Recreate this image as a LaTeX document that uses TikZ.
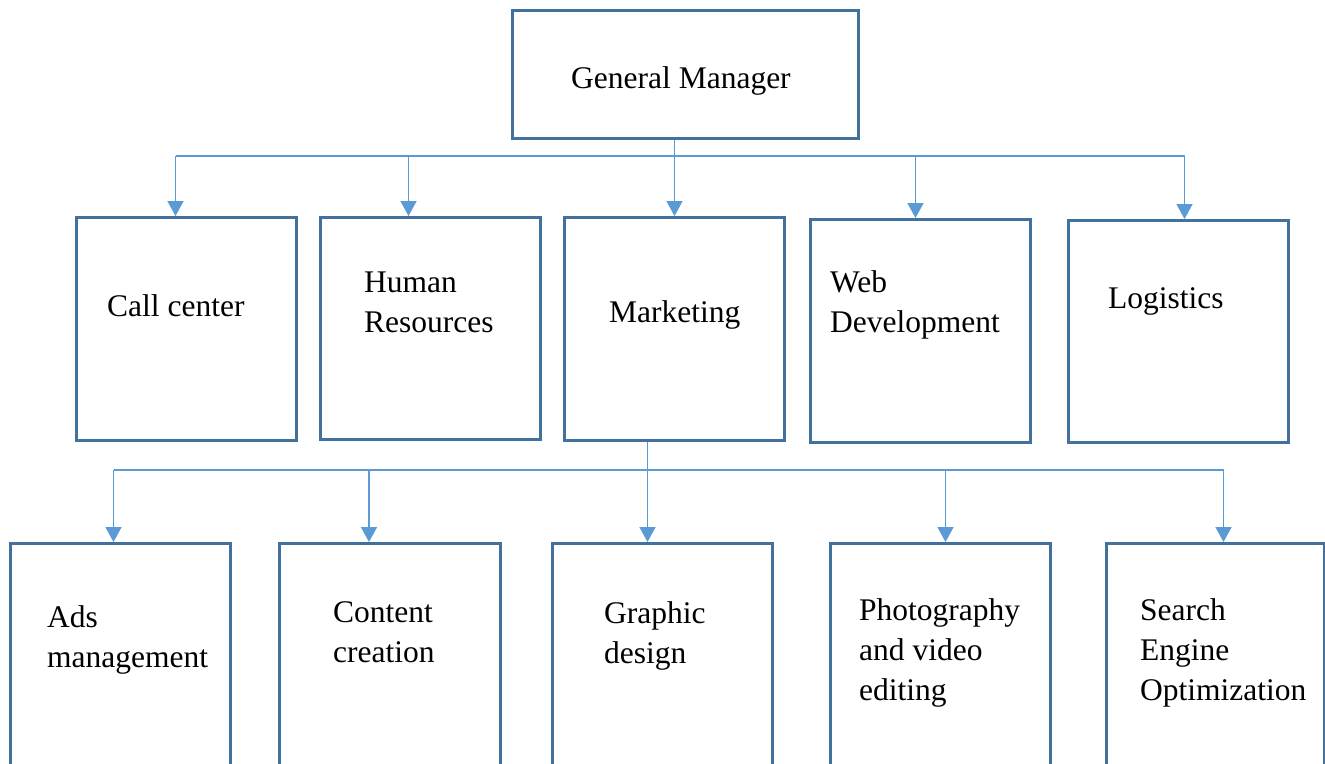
\documentclass[tikz,border=0pt]{standalone}
\usepackage{fontspec}
\setmainfont{Liberation Serif}
\usetikzlibrary{arrows.meta}
\definecolor{boxline}{HTML}{41719C}
\definecolor{conline}{HTML}{5B9BD5}
\newcommand\txtlines[1]{\begin{tabular}[t]{@{}l@{}}#1\end{tabular}}
\tikzset{
  box/.style={draw=boxline, line width=3pt, fill=white, inner sep=0pt, anchor=north west},
  rowtwo/.style={box, minimum width=220pt, minimum height=223pt},
  rowthree/.style={box, minimum width=220pt, minimum height=300pt},
  conn/.style={draw=conline, line width=1.6pt},
  arr/.style={conn, -{Triangle[width=16pt 0,length=15pt 0]}, color=conline},
  lbl/.style={anchor=base west, inner sep=0pt, font=\fontsize{31.5}{40}\selectfont}
}
\begin{document}
\begin{tikzpicture}[x=1pt, y=-1pt]
\clip (0,0) rectangle (1325,763);
\fill[white] (0,0) rectangle (1325,763);
% boxes
\node[box, minimum width=346pt, minimum height=128pt] (gm) at (511,9) {};
\node[rowtwo] (cc) at (75,216) {};
\node[rowtwo, minimum height=222pt] (hr) at (319,216) {};
\node[rowtwo] (mk) at (563,216) {};
\node[rowtwo] (wd) at (809,218) {};
\node[rowtwo, minimum height=222pt] (lg) at (1067,219) {};
\node[rowthree] (ad) at (9,542) {};
\node[rowthree, minimum width=221pt] (cn) at (278,542) {};
\node[rowthree] (gd) at (551,542) {};
\node[rowthree] (ph) at (829,542) {};
\node[rowthree, minimum width=218pt] (se) at (1105,542) {};
% labels
\node[lbl] (gmt) at (571,88) {General Manager};
\node[lbl] (cct) at (107,316) {Call center};
\node[lbl] (hrt) at (364,292) {\txtlines{Human\\Resources}};
\node[lbl] (mkt) at (609,322) {Marketing};
\node[lbl] (wdt) at (830,292) {\txtlines{Web\\Development}};
\node[lbl] (lgt) at (1108,308) {Logistics};
\node[lbl] (adt) at (47,627) {\txtlines{Ads\\management}};
\node[lbl] (cnt) at (333,622) {\txtlines{Content\\creation}};
\node[lbl] (gdt) at (604,623) {\txtlines{Graphic\\design}};
\node[lbl] (pht) at (859,620) {\txtlines{Photography\\and video\\editing}};
\node[lbl] (set) at (1140,620) {\txtlines{Search\\Engine\\Optimization}};
% first level connectors
\coordinate (busA) at (0,156);
\coordinate (t1) at ([xshift=-11pt]cc.north);
\coordinate (t2) at ([xshift=-22pt]hr.north);
\coordinate (t3) at (mk.north);
\coordinate (t4) at ([xshift=-5pt]wd.north);
\coordinate (t5) at ([xshift=6pt]lg.north);
\draw[conn] (mk.north |- gm.south) -- (mk.north |- busA);
\draw[conn] (t1 |- busA) -- (t5 |- busA);
\foreach \t in {t1,t2,t3,t4,t5}{\draw[arr] (\t |- busA) -- (\t);}
% second level connectors
\coordinate (busB) at (0,470);
\coordinate (mkout) at ([xshift=-27pt]mk.south);
\coordinate (u1) at ([xshift=-7pt]ad.north);
\coordinate (u2) at ([xshift=-21pt]cn.north);
\coordinate (u3) at ([xshift=-15pt]gd.north);
\coordinate (u4) at ([xshift=5pt]ph.north);
\coordinate (u5) at ([xshift=8pt]se.north);
\draw[conn] (mkout) -- (mkout |- busB);
\draw[conn] (u1 |- busB) -- (u5 |- busB);
\foreach \u in {u1,u2,u3,u4,u5}{\draw[arr] (\u |- busB) -- (\u);}
\end{tikzpicture}
\end{document}
